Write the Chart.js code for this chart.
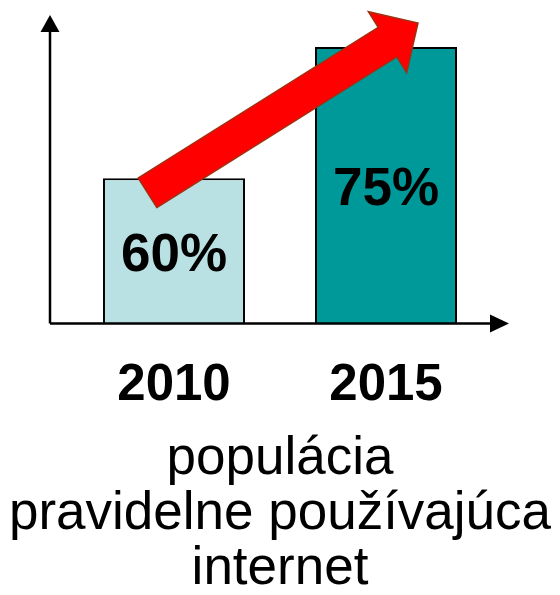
<!DOCTYPE html>
<html><head><meta charset="utf-8">
<script src="https://cdn.jsdelivr.net/npm/chart.js@4.4.1/dist/chart.umd.min.js"></script>
<style>html,body{margin:0;padding:0;background:#fff}#wrap{width:560px;height:595px}</style>
</head><body><div id="wrap"><canvas id="c" width="560" height="595"></canvas></div>
<script>
const categories = ['2010', '2015'];
const values = [60, 75];
const valueLabels = ['60%', '75%'];
const barColors = ['#B9E0E2', '#009999'];
const titleLines = ['populácia', 'pravidelne používajúca', 'internet'];

const FONT = '"Liberation Sans", Arial, Helvetica, sans-serif';

const decor = {
  id: 'decor',
  afterDatasetsDraw(chart) {
    const { ctx, chartArea } = chart;
    const meta = chart.getDatasetMeta(0);
    ctx.save();
    // value labels centered in bars
    ctx.fillStyle = '#000';
    ctx.font = 'bold 53px ' + FONT;
    ctx.textAlign = 'center';
    ctx.textBaseline = 'alphabetic';
    meta.data.forEach((bar, i) => {
      const mid = (bar.y + chartArea.bottom) / 2;
      ctx.fillText(valueLabels[i], bar.x, mid + 20);
    });

    // axes with arrowheads
    const ax = chartArea.left - 18, ay = chartArea.bottom;
    ctx.strokeStyle = '#000';
    ctx.fillStyle = '#000';
    ctx.lineWidth = 2.5;
    ctx.beginPath();
    ctx.moveTo(ax, ay); ctx.lineTo(ax, chartArea.top + 14);
    ctx.moveTo(ax, ay); ctx.lineTo(chartArea.right + 2, ay);
    ctx.stroke();
    ctx.beginPath();
    ctx.moveTo(ax, chartArea.top); ctx.lineTo(ax - 9.5, chartArea.top + 17); ctx.lineTo(ax + 9.5, chartArea.top + 17); ctx.closePath();
    ctx.fill();
    const xt = chartArea.right + 17;
    ctx.beginPath();
    ctx.moveTo(xt, ay); ctx.lineTo(xt - 19, ay - 9); ctx.lineTo(xt - 19, ay + 9); ctx.closePath();
    ctx.fill();

    // red growth arrow from bar 1 to above bar 2
    const b1 = meta.data[0], b2 = meta.data[1];
    const T = { x: b1.x - 26.5, y: b1.y + 14.5 };
    const P = { x: b2.x + 32, y: b2.y - 24 };
    const dx = P.x - T.x, dy = P.y - T.y, L = Math.hypot(dx, dy);
    const u = { x: dx / L, y: dy / L }, n = { x: -u.y, y: u.x };
    const hw = 17.5, hhw = 36, hl = 36;
    const H = { x: P.x - u.x * hl, y: P.y - u.y * hl };
    const pts = [
      [T.x + n.x * hw, T.y + n.y * hw],
      [H.x + n.x * hw, H.y + n.y * hw],
      [H.x + n.x * hhw, H.y + n.y * hhw],
      [P.x, P.y],
      [H.x - n.x * hhw, H.y - n.y * hhw],
      [H.x - n.x * hw, H.y - n.y * hw],
      [T.x - n.x * hw, T.y - n.y * hw]
    ];
    ctx.beginPath();
    pts.forEach((p, i) => i ? ctx.lineTo(p[0], p[1]) : ctx.moveTo(p[0], p[1]));
    ctx.closePath();
    ctx.fillStyle = '#FF0000';
    ctx.fill();
    ctx.lineWidth = 1.5;
    ctx.strokeStyle = '#A03010';
    ctx.stroke();
    ctx.restore();
  }
};

const spacer = (w, pos) => ({
  position: pos,
  display: true,
  grid: { display: false, drawTicks: false },
  border: { display: false },
  ticks: { display: false },
  afterFit(scale) { scale.width = w; }
});

new Chart(document.getElementById('c'), {
  type: 'bar',
  data: {
    labels: categories,
    datasets: [{
      data: values,
      backgroundColor: barColors,
      borderColor: '#000',
      borderWidth: 2,
      borderSkipped: false,
      categoryPercentage: 1,
      barPercentage: 0.67
    }]
  },
  options: {
    responsive: false,
    animation: false,
    devicePixelRatio: 1,
    layout: { padding: { left: 0, right: 0, top: 15, bottom: 0 } },
    plugins: {
      legend: { display: false },
      tooltip: { enabled: false },
      title: {
        display: true,
        position: 'bottom',
        text: titleLines,
        color: '#000',
        font: { family: FONT, size: 53, weight: 'normal', lineHeight: 55 / 53 },
        padding: { top: -17.1, bottom: -1.5 }
      }
    },
    scales: {
      x: {
        grid: { display: false, drawTicks: false },
        border: { display: false },
        ticks: {
          color: '#000',
          padding: 32,
          font: { family: FONT, size: 51, weight: 'bold', lineHeight: 1.2 }
        }
      },
      y: Object.assign(spacer(68, 'left'), { min: 43.4, max: 78.66 }),
      yRight: spacer(68, 'right')
    }
  },
  plugins: [decor]
});
</script>
</body></html>
